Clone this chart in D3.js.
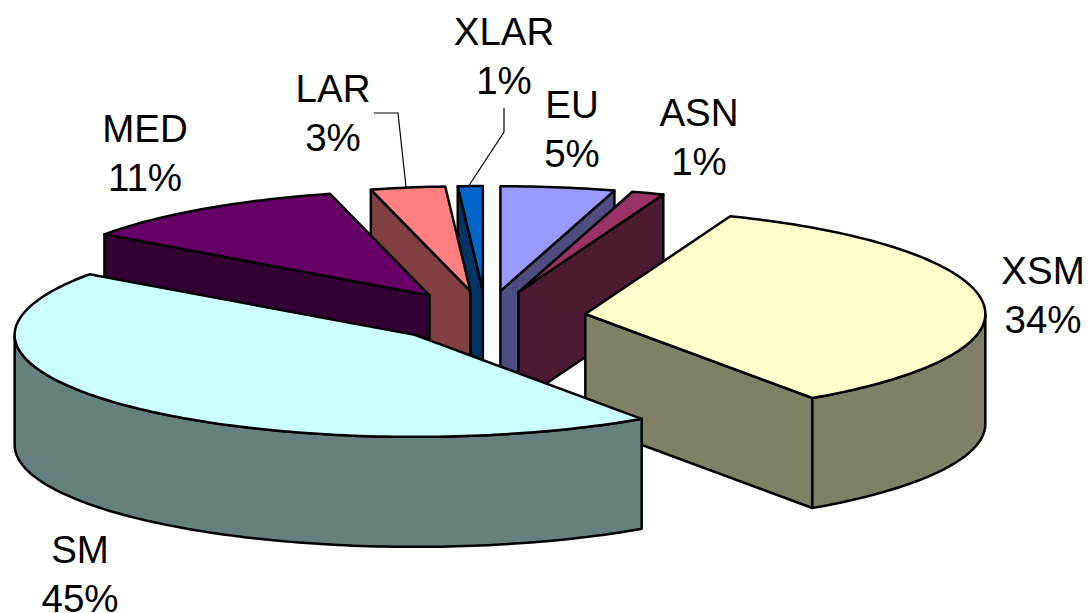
<!doctype html>
<html>
  <head>
    <meta charset="utf-8">
    <title>Pie</title>
    <script src="https://cdnjs.cloudflare.com/ajax/libs/d3/7.8.5/d3.min.js"></script>
    <style>
      html, body { margin: 0; padding: 0; background: #fff; }
      text { font-family: "Liberation Sans", Arial, sans-serif; font-size: 38.5px; fill: #000; text-anchor: middle; }
    </style>
  </head>
  <body>
    <div id="chart"></div>
    <script>
      // slices run clockwise from 12 o'clock
      const categories = ['EU', 'ASN', 'XSM', 'SM', 'MED', 'LAR', 'XLAR'];
      const values = [4.6, 1.3, 34.49, 44.5, 11.1, 3, 1];
      const topColors = ['#9999FF', '#993366', '#FFFFCC', '#CCFFFF', '#660066', '#FF8080', '#0066CC'];
      const explosion = 0.25;

      // label layout: centre x and first baseline, second line is one lineGap below
      const labelSpots = {
        EU: [572, 118], ASN: [699, 126], XSM: [1043, 284], SM: [80, 563],
        MED: [145, 142], LAR: [333, 102], XLAR: [504, 45]
      };
      const lineGap = 49;
      const leaders = {
        LAR: [[374, 113], [398, 113], [406, 187]],
        XLAR: [[504, 108], [504, 132], [468, 187]]
      };

      const W = 1091, H = 613, depth = 110;
      // pie plane in units of the radius, flattened to an ellipse on screen
      const x = d3.scaleLinear().domain([-1, 1]).range([86, 886]);
      // far side is a little taller than the near side
      const y = d3.scaleLinear().domain([-1.25, 0, 1.25]).range([444.5, 317, 186]);

      const svg = d3.select('#chart').append('svg').attr('width', W).attr('height', H)
        .style('display', 'block');

      const pie = d3.pie().sort(null).value(d => d.value);
      const slices = pie(categories.map((c, i) => ({ name: c, value: values[i], color: topColors[i] })));

      const line = d3.line();
      const dark = c => { const r = d3.rgb(c); return d3.rgb(r.r / 2, r.g / 2, r.b / 2).formatHex(); };

      // paint from back to front, SM last
      const paintOrder = ['EU', 'ASN', 'XLAR', 'LAR', 'MED', 'XSM', 'SM'];
      const ordered = paintOrder.map(n => slices.find(s => s.data.name === n));

      ordered.forEach(s => {
        const mid = (s.startAngle + s.endAngle) / 2;
        const ox = explosion * Math.sin(mid), oy = explosion * Math.cos(mid);
        const pt = (a, r = 1) => [x(ox + r * Math.sin(a)), y(oy + r * Math.cos(a))];
        const down = p => [p[0], p[1] + depth];
        const apex = pt(0, 0);
        const arcPts = (a0, a1) => {
          const n = Math.max(2, Math.ceil((a1 - a0) / 0.02));
          return d3.range(n + 1).map(i => pt(a0 + (a1 - a0) * i / n));
        };
        const g = svg.append('g');
        const side = dark(s.data.color);
        const draw = (pts, fill) => g.append('path')
          .attr('d', line(pts) + 'Z')
          .attr('fill', fill).attr('stroke', '#000')
          .attr('stroke-width', 2.5).attr('stroke-linejoin', 'round');

        // cut faces turned to the viewer
        if (Math.sin(s.startAngle) < -1e-6) {
          const e = pt(s.startAngle);
          draw([apex, e, down(e), down(apex)], side);
        }
        if (Math.sin(s.endAngle) > 1e-6) {
          const e = pt(s.endAngle);
          draw([apex, e, down(e), down(apex)], side);
        }
        // outer wall, only the front half of the rim
        const a0 = Math.max(s.startAngle, Math.PI / 2), a1 = Math.min(s.endAngle, 3 * Math.PI / 2);
        if (a1 > a0) {
          const rim = arcPts(a0, a1);
          draw(rim.concat(rim.map(down).reverse()), side);
        }
        // top
        draw([apex].concat(arcPts(s.startAngle, s.endAngle)), s.data.color);
      });

      // leader lines
      Object.values(leaders).forEach(pts => {
        svg.append('path').attr('d', line(pts)).attr('fill', 'none')
          .attr('stroke', '#000').attr('stroke-width', 1.2);
      });

      // labels
      slices.forEach(s => {
        const [lx, ly] = labelSpots[s.data.name];
        svg.append('text').attr('x', lx).attr('y', ly).text(s.data.name);
        svg.append('text').attr('x', lx).attr('y', ly + lineGap).text(Math.round(s.data.value) + '%');
      });
    </script>
  </body>
</html>
